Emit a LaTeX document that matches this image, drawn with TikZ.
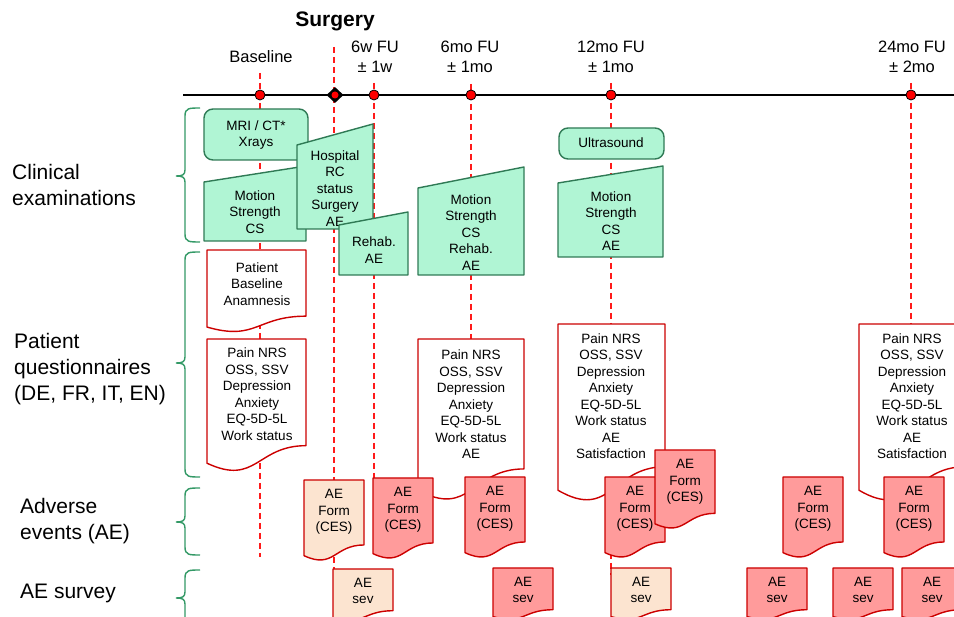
\documentclass[tikz,border=0pt]{standalone}
\usepackage{fontspec}
\setmainfont{Liberation Sans}
\usetikzlibrary{shapes.geometric}
\definecolor{mint}{HTML}{B0F5D4}
\definecolor{gborder}{HTML}{2F7A55}
\definecolor{rborder}{HTML}{CC0000}
\definecolor{aered}{HTML}{FF9B9B}
\definecolor{peach}{HTML}{FCE4D0}
\definecolor{bracegreen}{HTML}{339966}
\definecolor{dashred}{HTML}{FF1A1A}
\tikzset{
 greenbox/.style={draw=gborder, fill=mint, line width=1.4pt, line join=round},
 docbox/.style={draw=rborder, line width=1.4pt, fill=white, line join=round},
 aeform/.style={docbox, fill=aered},
 aepeach/.style={docbox, fill=peach},
 txt/.style={inner sep=0pt, align=center, font=\fontsize{13.5}{16.5}\selectfont},
 toplbl/.style={inner sep=0pt, align=center, font=\fontsize{16.5}{20}\selectfont},
 sidelbl/.style={inner sep=0pt, align=left, anchor=west, font=\fontsize{21}{26}\selectfont},
 vdash/.style={draw=dashred, line width=1.4pt, dash pattern=on 6pt off 4pt},
 bracestyle/.style={draw=bracegreen, line width=1.4pt},
 tdot/.style={circle, fill=red, draw=black, line width=0.8pt, minimum size=10pt, inner sep=0pt},
}
% document shape: style, x, ytop, w, h
\newcommand\mydocshape[5]{%
  \draw[#1] (#2,#3) -- ({#2+#4},#3) -- ({#2+#4},{#3+0.802*#5})
    .. controls ({#2+0.5*#4},{#3+0.802*#5}) and ({#2+0.5*#4},{#3+1.1075*#5})
    .. (#2,{#3+0.934*#5}) -- cycle;}
% manual input shape: x1, x2, ytopleft, ytopright, ybottom
\newcommand\mymanshape[5]{%
  \draw[greenbox] (#1,#3) -- (#2,#4) -- (#2,#5) -- (#1,#5) -- cycle;}
% brace: top, mid, bottom
\newcommand\mybrace[3]{%
  \draw[bracestyle] (200,#1) .. controls (189,#1) and (185,#1) .. (185,{#1+8})
    -- (185,{#2-6}) .. controls (185,{#2-1}) and (182,#2) .. (176,#2)
    .. controls (182,#2) and (185,{#2+1}) .. (185,{#2+6})
    -- (185,{#3-8}) .. controls (185,#3) and (189,#3) .. (200,#3);}
\begin{document}
\begin{tikzpicture}[x=1pt,y=-1pt]
\useasboundingbox (0,0) rectangle (954,617);
\clip (0,0) rectangle (954,617);
\fill[white] (0,0) rectangle (954,617);

% side labels and braces
\node[sidelbl] (lclin) at (12,185) {Clinical\\examinations};
\node[sidelbl] (lpat) at (14,369) {Patient\\questionnaires\\(DE, FR, IT, EN)};
\node[sidelbl] (lae) at (20,521) {Adverse\\events (AE)};
\node[sidelbl] (lsurv) at (20,593) {AE survey};
\mybrace{108}{176}{242}
\mybrace{252}{363}{477}
\mybrace{488}{522}{555}
\mybrace{570}{598}{626}

% top labels
\node[inner sep=0pt, font=\bfseries\fontsize{21}{24}\selectfont] (lsurg) at (335,21) {Surgery};
\node[toplbl] (lbase) at (261,57) {Baseline};
\node[toplbl] (l6w) at (375,57) {6w FU\\± 1w};
\node[toplbl] (l6mo) at (470,57) {6mo FU\\± 1mo};
\node[toplbl] (l12mo) at (611,57) {12mo FU\\± 1mo};
\node[toplbl] (l24mo) at (912,57) {24mo FU\\± 2mo};

% dashed verticals
\coordinate (tB) at (260,73);  \coordinate (eB) at (260,557);
\coordinate (tS) at (334,47);  \coordinate (eS) at (334,575);
\coordinate (t6w) at (374,83); \coordinate (e6w) at (374,485);
\coordinate (t6m) at (471,84); \coordinate (e6m) at (471,485);
\coordinate (t12) at (611,83); \coordinate (e12) at (611,575);
\coordinate (t24) at (911,83); \coordinate (e24) at (911,485);
\draw[vdash] (tB) -- (eB);
\draw[vdash] (tS) -- (eS);
\draw[vdash] (t6w) -- (e6w);
\draw[vdash] (t6m) -- (e6m);
\draw[vdash] (t12) -- (e12);
\draw[vdash] (t24) -- (e24);

% timeline
\coordinate (tl0) at (183,95); \coordinate (tl1) at (954,95);
\draw[line width=1.4pt] (tl0) -- (tl1);
\node[tdot] (dB) at (260,95) {};
\node[diamond, fill=black, minimum width=17pt, minimum height=16pt, inner sep=0pt] (dS) at (335,95) {};
\node[circle, fill=red, minimum size=7pt, inner sep=0pt] (dSin) at (335,95) {};
\node[tdot] (d6w) at (374,95) {};
\node[tdot] (d6m) at (471,95) {};
\node[tdot] (d12) at (611,95) {};
\node[tdot] (d24) at (911,95) {};

% clinical examinations
\mymanshape{204}{306}{182}{166}{241}
\node[txt] (cex1) at (255,212) {Motion\\Strength\\CS};
\draw[greenbox, rounded corners=9pt] (204,109) rectangle (308,160);
\node[txt] (mri) at (256,135) {MRI / CT*\\Xrays};
\mymanshape{297}{373}{145}{124}{229}
\node[txt] (hosp) at (335,188.5) {Hospital\\RC\\status\\Surgery\\AE};
\mymanshape{339}{408}{225}{212}{275}
\node[txt] (rehab) at (374,250) {Rehab.\\AE};
\mymanshape{418}{524}{188}{167}{275}
\node[txt] (cex6) at (471,232.5) {Motion\\Strength\\CS\\Rehab.\\AE};
\draw[greenbox, rounded corners=9pt] (559,128) rectangle (664,159);
\node[txt] (us) at (611,143) {Ultrasound};
\mymanshape{558}{663}{183}{166}{257}
\node[txt] (cex12) at (611,221) {Motion\\Strength\\CS\\AE};

% patient questionnaires
\mydocshape{docbox}{207}{250}{99}{82.5}
\node[txt] (qa) at (257,284) {Patient\\Baseline\\Anamnesis};
\mydocshape{docbox}{207}{339}{99}{133}
\node[txt] (qb) at (257,394) {Pain NRS\\OSS, SSV\\Depression\\Anxiety\\EQ-5D-5L\\Work status};
\mydocshape{docbox}{418}{339}{106}{162}
\node[txt] (qc) at (471,404.5) {Pain NRS\\OSS, SSV\\Depression\\Anxiety\\EQ-5D-5L\\Work status\\AE};
\mydocshape{docbox}{558}{324}{107}{178}
\node[txt] (qd) at (611,396) {Pain NRS\\OSS, SSV\\Depression\\Anxiety\\EQ-5D-5L\\Work status\\AE\\Satisfaction};
\mydocshape{docbox}{859}{324}{106}{178}
\node[txt] (qe) at (912,396) {Pain NRS\\OSS, SSV\\Depression\\Anxiety\\EQ-5D-5L\\Work status\\AE\\Satisfaction};

% adverse event forms
\mydocshape{aepeach}{304}{480}{60}{81}
\node[txt] (f1) at (334,512) {AE\\Form\\(CES)};
\mydocshape{aeform}{373}{478}{60}{81}
\node[txt] (f2) at (403,510) {AE\\Form\\(CES)};
\mydocshape{aeform}{465}{477}{60}{81}
\node[txt] (f3) at (495,509) {AE\\Form\\(CES)};
\mydocshape{aeform}{605}{477}{60}{81}
\node[txt] (f4) at (635,509) {AE\\Form\\(CES)};
\mydocshape{aeform}{655}{450}{60}{79}
\node[txt] (f5) at (685,482) {AE\\Form\\(CES)};
\mydocshape{aeform}{783}{477}{60}{81}
\node[txt] (f6) at (813,509) {AE\\Form\\(CES)};
\mydocshape{aeform}{884}{477}{60}{81}
\node[txt] (f7) at (914,509) {AE\\Form\\(CES)};

% AE survey
\mydocshape{aepeach}{333}{569}{60}{52}
\node[txt] (s1) at (363,591) {AE\\sev};
\mydocshape{aeform}{493}{568}{60}{52}
\node[txt] (s2) at (523,590) {AE\\sev};
\mydocshape{aepeach}{611}{568}{60}{52}
\node[txt] (s3) at (641,590) {AE\\sev};
\mydocshape{aeform}{747}{568}{60}{52}
\node[txt] (s4) at (777,590) {AE\\sev};
\mydocshape{aeform}{833}{568}{60}{52}
\node[txt] (s5) at (863,590) {AE\\sev};
\mydocshape{aeform}{902}{568}{60}{52}
\node[txt] (s6) at (932,590) {AE\\sev};
\end{tikzpicture}
\end{document}
